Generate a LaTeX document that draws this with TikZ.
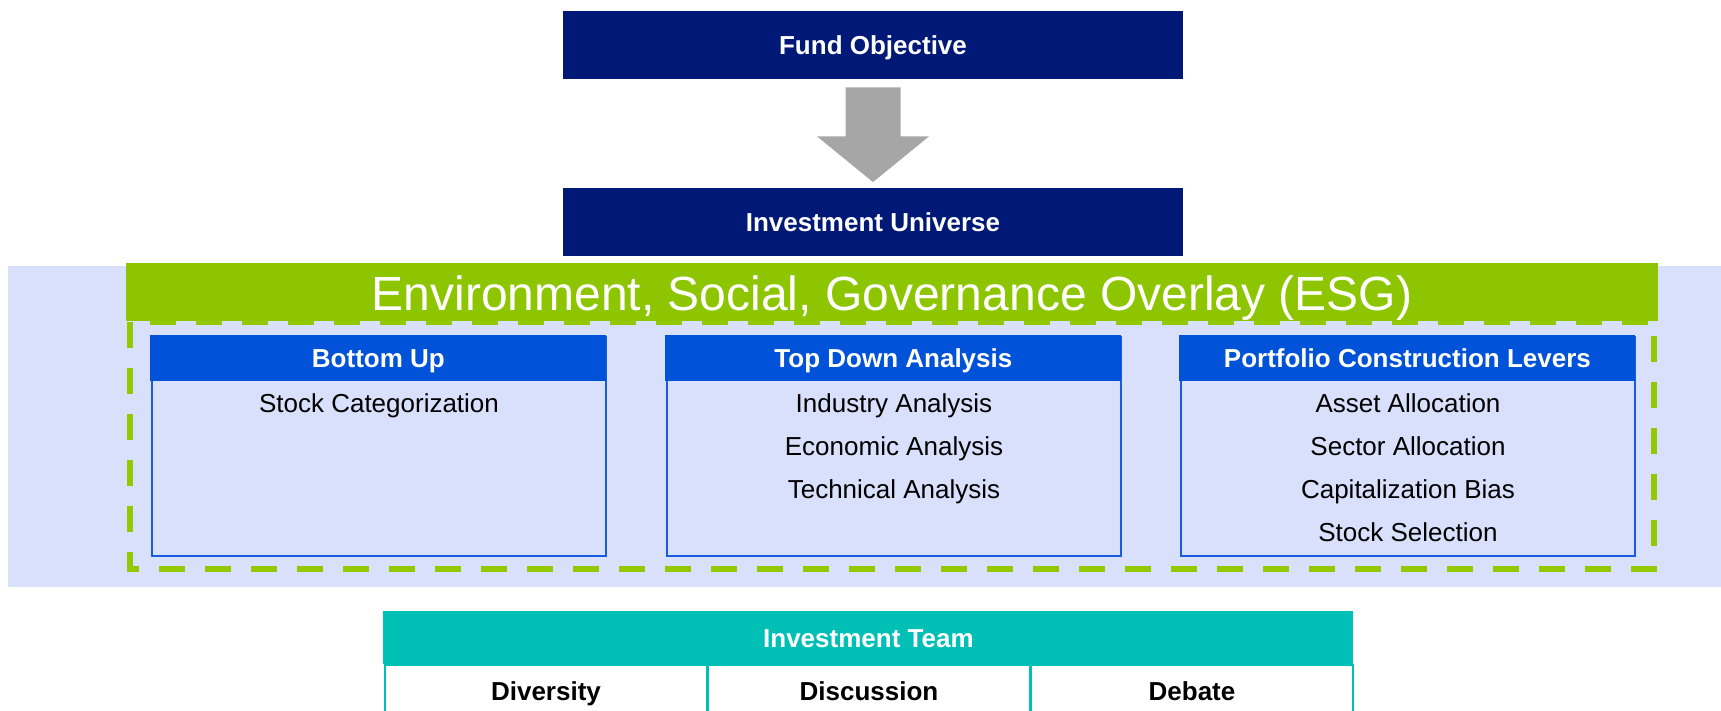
\documentclass[tikz,border=0pt]{standalone}
\usepackage{fontspec}
\setmainfont{Liberation Sans}
\usetikzlibrary{calc}

\definecolor{navy}{RGB}{0,25,119}
\definecolor{arrowgrey}{RGB}{166,166,166}
\definecolor{paleblue}{RGB}{216,224,252}
\definecolor{esggreen}{RGB}{141,198,0}
\definecolor{dashgreen}{RGB}{146,201,0}
\definecolor{headblue}{RGB}{0,82,217}
\definecolor{edgeblue}{RGB}{25,92,225}
\definecolor{teamteal}{RGB}{0,192,182}

\tikzset{
    capcentre/.style={text height=9.3pt, text depth=0pt},
    navybox/.style={fill=navy, text=white, inner sep=0pt, minimum width=310pt,
        minimum height=34pt, capcentre, font=\bfseries\fontsize{13}{15}\selectfont},
    panelbody/.style={fill=paleblue, draw=edgeblue, line width=1pt, inner sep=0pt,
        minimum width=227pt, minimum height=109.5pt},
    panelhead/.style={fill=headblue, text=white, inner sep=0pt, minimum width=228pt,
        minimum height=23pt, capcentre, font=\bfseries\fontsize{13}{15}\selectfont},
    item/.style={inner sep=0pt, capcentre, font=\fontsize{13}{15}\selectfont},
    teamhead/.style={fill=teamteal, text=white, inner sep=0pt, minimum width=485pt,
        minimum height=26.5pt, capcentre, font=\bfseries\fontsize{13}{15}\selectfont},
    teamcell/.style={fill=white, draw=teamteal, line width=1pt, inner sep=0pt,
        minimum width=161pt, minimum height=26pt, capcentre,
        font=\bfseries\fontsize{13}{15}\selectfont},
}

\begin{document}
\begin{tikzpicture}[x=0.5pt, y=-0.5pt]  % one unit is one pixel, y runs down
    \useasboundingbox (0,0) rectangle (1721,711);
    \clip (0,0) rectangle (1721,711);

    % Draw the two top boxes
    \node[navybox] (fund) at (873,45) {Fund Objective};
    \node[navybox] (universe) at (873,222.5) {Investment Universe};

    % Draw the grey block arrow between them
    \fill[arrowgrey] ($(fund.south)+(-27.5,8)$) -- ($(fund.south)+(27.5,8)$)
        -- ($(fund.south)+(27.5,57)$) -- ($(fund.south)+(56,57)$)
        -- ($(universe.north)+(0,-6)$) -- ($(fund.south)+(-56,57)$)
        -- ($(fund.south)+(-27.5,57)$) -- cycle;

    % Draw the pale band and the ESG overlay
    \fill[paleblue] (8,266) rectangle (1721,587);
    \draw[dashgreen, line width=3pt, dash pattern=on 13pt off 10pt] (130,322) rectangle (1654,569);
    \fill[esggreen] (126,263) rectangle (1658,321);
    \node[text=white, inner sep=0pt, text height=17.2pt, text depth=0pt,
        font=\fontsize{24}{28}\selectfont] (esg) at (892,293.5)
        {Environment, Social, Governance Overlay (ESG)};

    % Draw the three panels with their headers
    \foreach \x/\name/\title in {150/bottom/Bottom Up, 665/topdown/Top Down Analysis,
            1179/levers/Portfolio Construction Levers} {
        \node[panelbody, anchor=north west] (\name) at (\x+1,336) {};
        \node[panelhead, anchor=north west] (\name head) at (\x,335) {\title};
    }

    % Draw the items inside each panel
    \node[item] at ($(bottom.north)+(0,67)$) {Stock Categorization};
    \foreach \t [count=\i] in {Industry Analysis, Economic Analysis, Technical Analysis}
        \node[item] at ($(topdown.north)+(0,23.7+43.2*\i)$) {\t};
    \foreach \t [count=\i] in {Asset Allocation, Sector Allocation, Capitalization Bias, Stock Selection}
        \node[item] at ($(levers.north)+(0,23.7+43.2*\i)$) {\t};

    % Draw the investment team table
    \node[teamhead, anchor=north west] (team) at (383,611) {Investment Team};
    \foreach \t [count=\i] in {Diversity, Discussion, Debate}
        \node[teamcell, anchor=north west] (cell\i) at (384+323*\i-323,664) {\t};
\end{tikzpicture}
\end{document}
